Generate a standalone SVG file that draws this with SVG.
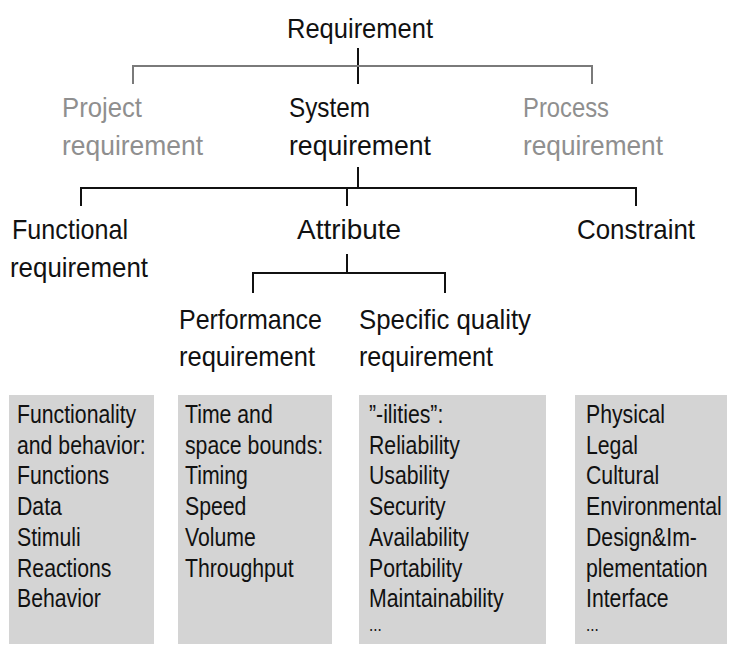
<svg xmlns="http://www.w3.org/2000/svg" width="742" height="656" viewBox="0 0 742 656">
<style>
text{font-family:"Liberation Sans",Arial,sans-serif;}
.h{font-size:28px;fill:#111;}
.g{font-size:28px;fill:#8f8f8f;}
.b{font-size:25px;fill:#111;}
.d{font-size:18px;fill:#111;}
.box{fill:#d4d4d4;}
.k{stroke:#111;stroke-width:2;fill:none;}
.gl{stroke:#7a7a7a;stroke-width:2;fill:none;}
</style>
<rect width="742" height="656" fill="#fff"/>
<g id="connectors">
<line class="k" x1="358" y1="48" x2="358" y2="84"/>
<polyline class="gl" points="133,84 133,66 592,66 592,84"/>
<line class="k" x1="358" y1="167" x2="358" y2="188"/>
<polyline class="k" points="81,206 81,188 636,188 636,206"/>
<line class="k" x1="347" y1="188" x2="347" y2="206"/>
<line class="k" x1="347" y1="254" x2="347" y2="273"/>
<polyline class="k" points="253,293 253,273 445,273 445,293"/>
</g>
<g id="requirement"><text class="h" x="287" y="38" textLength="146" lengthAdjust="spacingAndGlyphs">Requirement</text></g>
<g id="project">
<text class="g" x="62" y="117" textLength="80" lengthAdjust="spacingAndGlyphs">Project</text>
<text class="g" x="62" y="155" textLength="141" lengthAdjust="spacingAndGlyphs">requirement</text>
</g>
<g id="system">
<text class="h" x="289" y="117" textLength="81" lengthAdjust="spacingAndGlyphs">System</text>
<text class="h" x="289" y="155" textLength="142" lengthAdjust="spacingAndGlyphs">requirement</text>
</g>
<g id="process">
<text class="g" x="523" y="117" textLength="86" lengthAdjust="spacingAndGlyphs">Process</text>
<text class="g" x="523" y="155" textLength="140" lengthAdjust="spacingAndGlyphs">requirement</text>
</g>
<g id="functional">
<text class="h" x="12" y="239" textLength="116" lengthAdjust="spacingAndGlyphs">Functional</text>
<text class="h" x="10" y="277" textLength="138" lengthAdjust="spacingAndGlyphs">requirement</text>
</g>
<g id="attribute"><text class="h" x="297" y="239" textLength="104" lengthAdjust="spacingAndGlyphs">Attribute</text></g>
<g id="constraint"><text class="h" x="577" y="239" textLength="118" lengthAdjust="spacingAndGlyphs">Constraint</text></g>
<g id="performance">
<text class="h" x="179" y="329" textLength="143" lengthAdjust="spacingAndGlyphs">Performance</text>
<text class="h" x="179" y="366" textLength="136" lengthAdjust="spacingAndGlyphs">requirement</text>
</g>
<g id="quality">
<text class="h" x="359" y="329" textLength="172" lengthAdjust="spacingAndGlyphs">Specific quality</text>
<text class="h" x="359" y="366" textLength="134" lengthAdjust="spacingAndGlyphs">requirement</text>
</g>
<g id="box-functional">
<rect class="box" x="9" y="395" width="145" height="249"/>
<g transform="translate(17,0) scale(0.85,1)">
<text class="b" x="0" y="423">Functionality</text>
<text class="b" x="0" y="454">and behavior:</text>
<text class="b" x="0" y="484">Functions</text>
<text class="b" x="0" y="515">Data</text>
<text class="b" x="0" y="546">Stimuli</text>
<text class="b" x="0" y="577">Reactions</text>
<text class="b" x="0" y="607">Behavior</text>
</g>
</g>
<g id="box-performance">
<rect class="box" x="178" y="395" width="154" height="249"/>
<g transform="translate(185,0) scale(0.85,1)">
<text class="b" x="0" y="423">Time and</text>
<text class="b" x="0" y="454">space bounds:</text>
<text class="b" x="0" y="484">Timing</text>
<text class="b" x="0" y="515">Speed</text>
<text class="b" x="0" y="546">Volume</text>
<text class="b" x="0" y="577">Throughput</text>
</g>
</g>
<g id="box-quality">
<rect class="box" x="359" y="395" width="187" height="249"/>
<g transform="translate(369,0) scale(0.85,1)">
<text class="b" x="0" y="423">”-ilities”:</text>
<text class="b" x="0" y="454">Reliability</text>
<text class="b" x="0" y="484">Usability</text>
<text class="b" x="0" y="515">Security</text>
<text class="b" x="0" y="546">Availability</text>
<text class="b" x="0" y="577">Portability</text>
<text class="b" x="0" y="607">Maintainability</text>
<text class="d" x="0" y="631">...</text>
</g>
</g>
<g id="box-constraint">
<rect class="box" x="575" y="395" width="152" height="249"/>
<g transform="translate(586,0) scale(0.85,1)">
<text class="b" x="0" y="423">Physical</text>
<text class="b" x="0" y="454">Legal</text>
<text class="b" x="0" y="484">Cultural</text>
<text class="b" x="0" y="515">Environmental</text>
<text class="b" x="0" y="546">Design&amp;Im-</text>
<text class="b" x="0" y="577">plementation</text>
<text class="b" x="0" y="607">Interface</text>
<text class="d" x="0" y="631">...</text>
</g>
</g>
</svg>
